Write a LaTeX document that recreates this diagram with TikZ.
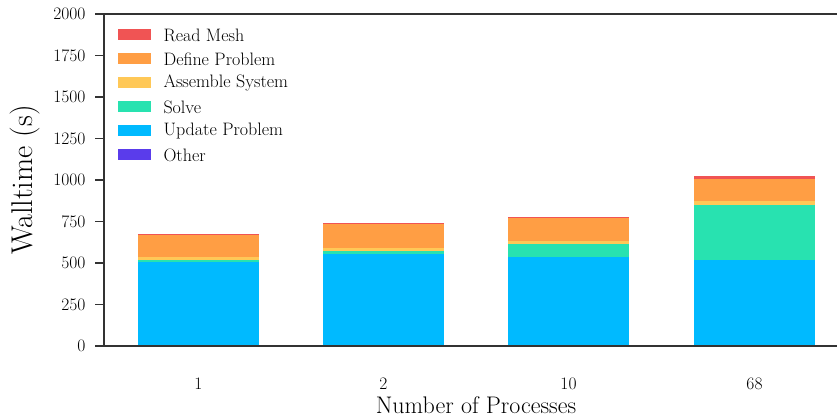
\documentclass[tikz,border=0pt]{standalone}
\usepackage{fontspec}
\begin{document}
\begin{tikzpicture}[x=1pt,y=1pt,
  axisline/.style={draw=black!80,line width=1.8pt},
  ticklab/.style={font=\fontsize{17.5}{20}\selectfont,text=black},
  legtext/.style={font=\fontsize{18}{20}\selectfont,anchor=west,text=black},
  titlelab/.style={font=\fontsize{24}{28}\selectfont,text=black},
  swatch/.style={minimum width=33pt,minimum height=11pt,inner sep=0pt}]
\definecolor{cread}{RGB}{240,84,84}
\definecolor{cdef}{RGB}{255,158,68}
\definecolor{cass}{RGB}{255,200,87}
\definecolor{csol}{RGB}{40,226,176}
\definecolor{cupd}{RGB}{0,186,255}
\definecolor{coth}{RGB}{90,60,235}
\useasboundingbox (0,0) rectangle (837,418);
% bars: center, other, update, solve, assemble, define, read (cumulative tops)
\foreach \c/\o/\u/\s/\a/\d/\r in {198.5/0/506/520/536/669/675, 383.5/0/554/572/590/735/741, 568.5/6/536/614/632/771/777, 754.5/6/518/849/873/1006/1024}{
  \fill[coth] (\c-60.5,72) rectangle (\c+60.5,72+\o*0.166);
  \fill[cupd] (\c-60.5,72+\o*0.166) rectangle (\c+60.5,72+\u*0.166);
  \fill[csol] (\c-60.5,72+\u*0.166) rectangle (\c+60.5,72+\s*0.166);
  \fill[cass] (\c-60.5,72+\s*0.166) rectangle (\c+60.5,72+\a*0.166);
  \fill[cdef] (\c-60.5,72+\a*0.166) rectangle (\c+60.5,72+\d*0.166);
  \fill[cread] (\c-60.5,72+\d*0.166) rectangle (\c+60.5,72+\r*0.166);
}
% axes
\draw[axisline] (104,404) -- (837,404);
\draw[axisline] (104,404) -- (104,72);
\draw[axisline] (104,72) -- (837,72);
\foreach \v [count=\i] in {0,250,500,750,1000,1250,1500,1750,2000}{
  \draw[axisline,line width=1.4pt] (95,72+\v*0.166) -- (104,72+\v*0.166);
  \node[ticklab,anchor=east] (yt\i) at (89,72+\v*0.166) {\v};
}
\foreach \c/\l [count=\i] in {198.5/1,383.5/2,568.5/10,754.5/68}{
  \node[ticklab] (xt\i) at (\c,34) {\l};
}
\node[titlelab] (xlab) at (476,13) {Number of Processes};
\node[font=\fontsize{30}{34}\selectfont,text=black,rotate=90] (ylab) at (25,238) {Walltime (s)};
% legend
\foreach \col/\t [count=\i] in {cread/Read Mesh,cdef/Define Problem,cass/Assemble System,csol/Solve,cupd/Update Problem,coth/Other}{
  \node[swatch,fill=\col] (sw\i) at (134.5,418-35-24*\i+24) {};
  \node[legtext] (lt\i) at (160,418-35-24*\i+24) {\t};
}
\end{tikzpicture}
\end{document}
